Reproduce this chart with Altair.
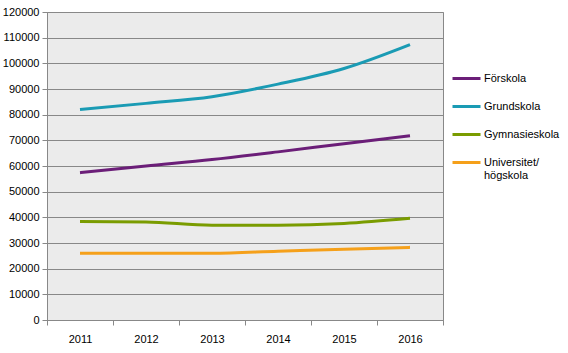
import altair as alt
import pandas as pd

years = ["2011", "2012", "2013", "2014", "2015", "2016"]
forskola = [57400, 60000, 62500, 65500, 68700, 71800]
grundskola = [82000, 84400, 87000, 91900, 98000, 107300]
gymnasieskola = [38400, 38200, 36900, 36900, 37600, 39600]
universitet = [26000, 26000, 26000, 26800, 27600, 28300]

series = {
    "Förskola": forskola,
    "Grundskola": grundskola,
    "Gymnasieskola": gymnasieskola,
    "Universitet/högskola": universitet,
}
names = list(series.keys())
colors = ["#6B1E78", "#1A9BB4", "#7A9C00", "#F5A01A"]

rows = []
for name, vals in series.items():
    for y, v in zip(years, vals):
        rows.append({"År": y, "Antal": v, "Skolform": name})
df = pd.DataFrame(rows)

font = "Liberation Sans"

chart = alt.Chart(df).mark_line(strokeWidth=3, interpolate="monotone").encode(
    x=alt.X("År:N", bandPosition=0.5,
            scale=alt.Scale(type="band", paddingInner=0, paddingOuter=0),
            axis=alt.Axis(title=None, labelAngle=0, tickBand="extent", grid=False,
                          domainColor="#888888", tickColor="#888888", tickSize=5,
                          labelFont=font, labelFontSize=11, labelColor="#000000",
                          labelPadding=8)),
    y=alt.Y("Antal:Q",
            scale=alt.Scale(domain=[0, 120000], nice=False),
            axis=alt.Axis(title=None, values=list(range(0, 120001, 10000)), format="d",
                          grid=True, gridColor="#888888", gridWidth=1,
                          domainColor="#888888", tickColor="#888888", tickSize=5,
                          labelFont=font, labelFontSize=11, labelColor="#000000",
                          labelPadding=3)),
    color=alt.Color("Skolform:N",
                    scale=alt.Scale(domain=names, range=colors),
                    legend=alt.Legend(title=None, orient="none", legendX=404, legendY=51,
                                      symbolType="stroke", symbolSize=784,
                                      symbolStrokeWidth=3, labelFont=font,
                                      labelFontSize=11, labelColor="#000000",
                                      rowPadding=6, labelOffset=2,
                                      labelExpr="datum.label == 'Universitet/högskola' ? ['Universitet/', 'högskola'] : datum.label")),
).properties(
    width=396, height=308,
    autosize=alt.AutoSizeParams(type="none"),
    padding={"left": 47, "top": 12, "right": 125, "bottom": 33},
    background="#ffffff",
).configure_view(fill="#EBEBEB", stroke="#888888", strokeWidth=1)

chart.save("out.html", embed_options={"renderer": "svg", "actions": False})
